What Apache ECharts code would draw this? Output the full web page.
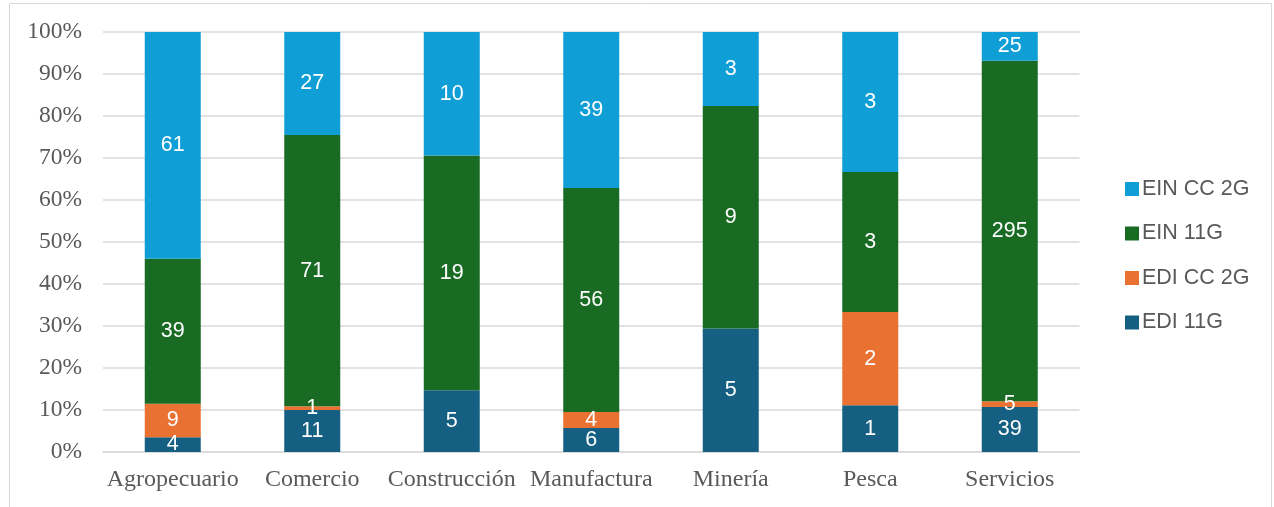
<!DOCTYPE html>
<html>
<head>
<meta charset="utf-8">
<script src="https://cdn.jsdelivr.net/npm/echarts@6/dist/echarts.min.js"></script>
<style>
  html, body { margin: 0; padding: 0; background: #ffffff; }
  #chart { width: 1274px; height: 507px; }
</style>
</head>
<body>
<div id="chart"></div>
<script>
const categories = ['Agropecuario', 'Comercio', 'Construcción', 'Manufactura', 'Minería', 'Pesca', 'Servicios']
// conteos por sector (etiquetas de la gráfica)
const ediEleven = [4, 11, 5, 6, 5, 1, 39]
const ediCcTwo = [9, 1, 0, 4, 0, 2, 5]
const einEleven = [39, 71, 19, 56, 9, 3, 295]
const einCcTwo = [61, 27, 10, 39, 3, 3, 25]
const yTicks = [0, 10, 20, 30, 40, 50, 60, 70, 80, 90, 100]

const totals = categories.map((c, i) => ediEleven[i] + ediCcTwo[i] + einEleven[i] + einCcTwo[i])
const pct = (arr) => arr.map((v, i) => v / totals[i] * 100)

const labelFont = 'Liberation Sans, Arial, sans-serif'
const axisFont = 'Liberation Serif, Times New Roman, serif'

const makeSeries = (name, counts, color) => ({
  name: name,
  type: 'bar',
  stack: 'total',
  barWidth: 56,
  data: pct(counts),
  itemStyle: { color: color },
  label: {
    show: true,
    position: 'inside',
    color: '#ffffff',
    fontFamily: labelFont,
    fontSize: 21.5,
    formatter: (p) => (counts[p.dataIndex] === 0 ? '' : String(counts[p.dataIndex])),
  },
})

const chart = echarts.init(document.getElementById('chart'))
chart.setOption({
  animation: false,
  graphic: [
    {
      type: 'rect',
      shape: { x: 9.5, y: 3.5, width: 1262, height: 520 },
      style: { fill: 'none', stroke: '#d9d9d9', lineWidth: 1 },
      silent: true,
    },
  ],
  grid: {
    left: 103,
    right: 1274 - 1079.5,
    top: 32,
    bottom: 507 - 452,
  },
  legend: {
    orient: 'vertical',
    left: 1120,
    top: 173,
    itemWidth: 14,
    itemHeight: 14,
    itemGap: 22.5,
    icon: 'rect',
    data: ['EIN CC 2G', 'EIN 11G', 'EDI CC 2G', 'EDI 11G'],
    textStyle: {
      color: '#595959',
      fontFamily: labelFont,
      fontSize: 21.5,
      padding: [0, 0, 0, -2],
    },
  },
  xAxis: {
    type: 'category',
    data: categories,
    axisLine: { show: true, lineStyle: { color: '#d9d9d9', width: 1.5 } },
    axisTick: { show: false },
    axisLabel: {
      color: '#595959',
      fontFamily: axisFont,
      fontSize: 24,
      margin: 16,
      interval: 0,
    },
  },
  yAxis: {
    type: 'value',
    min: 0,
    max: 100,
    interval: 10,
    axisLine: { show: false },
    axisTick: { show: false },
    splitLine: { show: true, lineStyle: { color: '#d9d9d9', width: 1.5 } },
    axisLabel: {
      color: '#595959',
      fontFamily: axisFont,
      fontSize: 23.5,
      margin: 21,
      formatter: (v) => (yTicks.indexOf(v) >= 0 ? v + '%' : ''),
    },
  },
  series: [
    makeSeries('EDI 11G', ediEleven, '#156082'),
    makeSeries('EDI CC 2G', ediCcTwo, '#E97132'),
    makeSeries('EIN 11G', einEleven, '#196B24'),
    makeSeries('EIN CC 2G', einCcTwo, '#0F9ED5'),
  ],
})
</script>
</body>
</html>
